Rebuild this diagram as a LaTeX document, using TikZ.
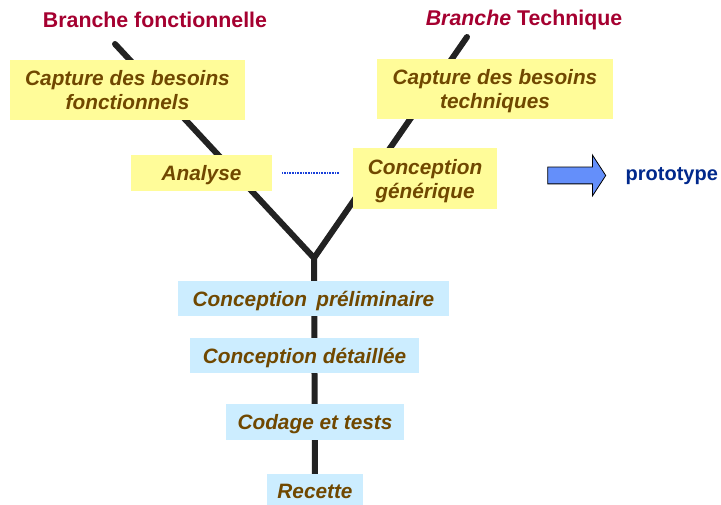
\documentclass[tikz,border=0pt]{standalone}
\usepackage{fontspec}
\setmainfont{Liberation Sans}
\usepackage{tikz}
\usetikzlibrary{shapes.arrows,backgrounds}
\definecolor{brbrown}{rgb}{0.43922, 0.28235, 0.00000}
\definecolor{bryellow}{rgb}{1.00000, 0.98824, 0.60000}
\definecolor{brblue}{rgb}{0.80000, 0.92941, 1.00000}
\definecolor{brred}{rgb}{0.64706, 0.00000, 0.18824}
\definecolor{brnavy}{rgb}{0.00000, 0.15686, 0.54902}
\definecolor{brarrow}{rgb}{0.39216, 0.56078, 0.98039}
\definecolor{brtrunk}{rgb}{0.13333, 0.13333, 0.13333}
\definecolor{brdots}{rgb}{0.10000, 0.25000, 0.85000}
\tikzset{
  phase/.style={inner sep=0pt, align=center, text=brbrown, text depth=0pt,
    font=\fontsize{15.6}{18}\selectfont\bfseries\itshape},
  yphase/.style={phase, fill=bryellow},
  bphase/.style={phase, fill=brblue},
  branch/.style={font=\fontsize{16}{19}\selectfont\bfseries, text=brred},
  trunk/.style={draw=brtrunk, line width=4.5pt}
}

\begin{document}
\begin{tikzpicture}[x=0.75pt,y=-0.75pt]
\useasboundingbox (0,0) rectangle (721,505);
% titres des branches
\node[branch] (tf) at (155,20) {Branche fonctionnelle};
\node[branch] (tt) at (524,20) {\textit{Branche} Technique};
% branche gauche / droite
\node[yphase, minimum width=176.25pt, minimum height=45pt] (capf) at (127.5,90)
  {Capture des besoins\\ fonctionnels};
\node[yphase, minimum width=177pt, minimum height=45pt] (capt) at (495,89)
  {Capture des besoins\\ techniques};
\node[yphase, minimum width=105.75pt, minimum height=27pt] (ana) at (201.5,173) {Analyse};
\node[yphase, minimum width=108pt, minimum height=45.75pt] (gen) at (425,178.5)
  {Conception\\ générique};
% tronc
\node[bphase, minimum width=203.25pt, minimum height=26.25pt] (prel) at (313.5,298.5)
  {Conception\, préliminaire};
\node[bphase, minimum width=171.75pt, minimum height=26.25pt] (det) at (304.5,355.5)
  {Conception détaillée};
\node[bphase, minimum width=133.5pt, minimum height=27pt] (cod) at (315,422) {Codage et tests};
\node[bphase, minimum width=72pt, minimum height=25pt] (rec) at (315,491) {Recette};
% prototype
\node[single arrow, draw=black, fill=brarrow, line width=0.6pt, inner sep=6pt,
  minimum height=43.5pt, single arrow head extend=9pt, single arrow tip angle=114,
  single arrow head indent=0pt] (arr) at (574,175.5) {};
\node[font=\fontsize{15}{17}\selectfont\bfseries, text=brnavy, anchor=west] (proto)
  at (621,176) {prototype};

\coordinate (topf) at (115,44);
\coordinate (topt) at (467,37);
\coordinate (fork) at (314,258);
\begin{scope}[on background layer]
\draw[trunk, line cap=round] (topf) -- (fork) -- (topt);
\draw[trunk] (fork) -- (rec.center);
\end{scope}
\draw[brdots, line width=0.8pt, dash pattern=on 0.6pt off 0.6pt,
  shorten <=7.5pt, shorten >=10.5pt] (ana.east) -- (ana.east -| gen.west);
\end{tikzpicture}
\end{document}
